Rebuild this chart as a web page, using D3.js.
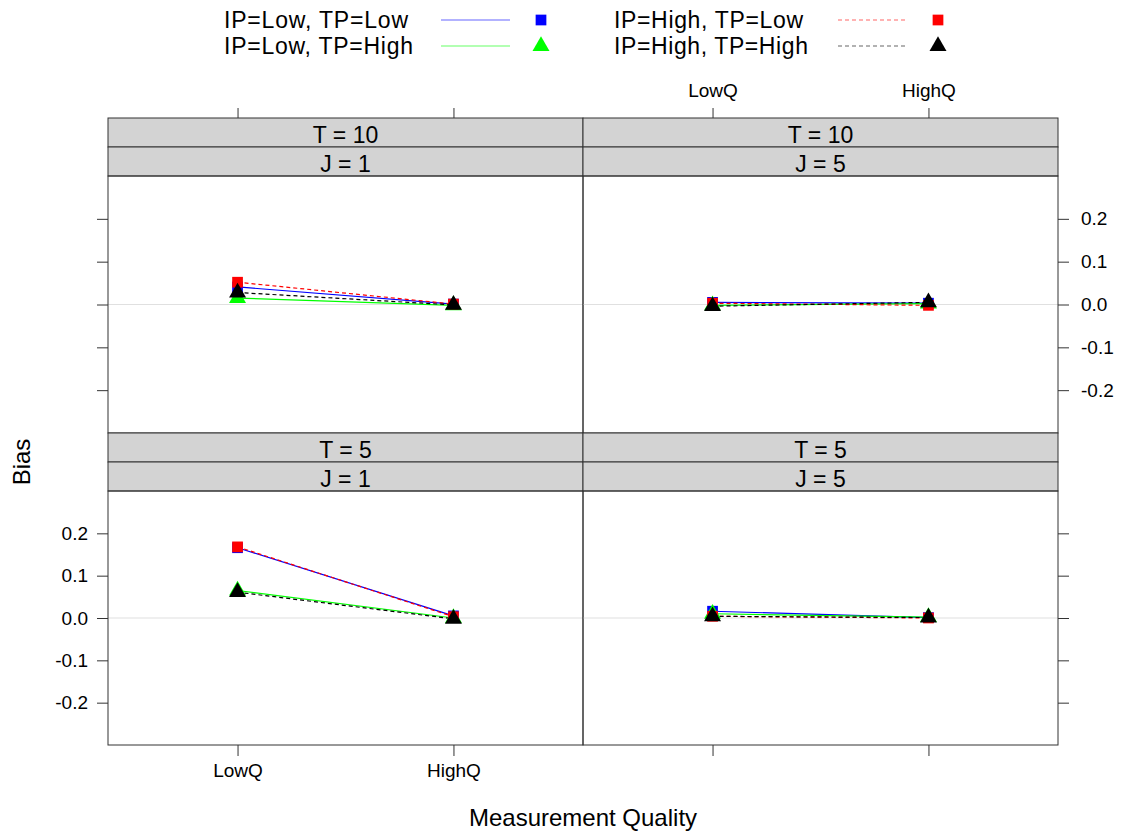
<!DOCTYPE html>
<html>
<head>
<meta charset="utf-8">
<script src="https://cdn.jsdelivr.net/npm/d3@7"></script>
<style>
  html, body { margin: 0; padding: 0; background: #fff; }
  svg { display: block; font-family: "Liberation Sans", Arial, sans-serif; }
</style>
</head>
<body>
<svg id="chart" width="1122" height="835"></svg>
<script>
// Measurement quality levels on the x axis
const categories = ["LowQ", "HighQ"];
// Bias tick values
const yTicks = [-0.2, -0.1, 0.0, 0.1, 0.2];
// Panels: T (strip 1) and J (strip 2), placed by row/column
const panelT = ["T = 10", "T = 10", "T = 5", "T = 5"];
const panelJ = ["J = 1", "J = 5", "J = 1", "J = 5"];
const panelRow = [0, 0, 1, 1];
const panelCol = [0, 1, 0, 1];

// Series names (legend order)
const seriesNames = ["IP=Low, TP=Low", "IP=Low, TP=High", "IP=High, TP=Low", "IP=High, TP=High"];
// Bias per panel, [LowQ, HighQ]
const biasLowLow   = [[0.041, 0.001], [0.005, 0.003], [0.166, 0.005], [0.016, 0.001]];
const biasLowHigh  = [[0.015, -0.002], [-0.002, 0.002], [0.065, 0.000], [0.010, 0.002]];
const biasHighLow  = [[0.052, 0.001], [0.003, -0.002], [0.168, 0.003], [0.004, 0.000]];
const biasHighHigh = [[0.028, -0.001], [-0.004, 0.005], [0.061, -0.002], [0.004, 0.001]];
const seriesValues = [biasLowLow, biasLowHigh, biasHighLow, biasHighHigh];

const seriesColor = ["#0000FF", "#00FF00", "#FF0000", "#000000"];
const seriesDash  = [null, null, "4,3", "4,3"];
const seriesShape = ["square", "triangle", "square", "triangle"];

const svg = d3.select("#chart");

// Layout of the lattice grid
const colX = [[108, 583], [583, 1058]];
const stripH = 29;
const rowTop = [118, 433];
const rowPanel = [[176, 433], [491, 745]];

const xScales = colX.map(([a, b]) => d3.scalePoint().domain(categories).range([a, b]).padding(0.6));
const yScales = rowPanel.map(([t, b]) => d3.scaleLinear().domain([-0.3, 0.3]).range([b, t]));

const fmt = d => d.toFixed(1);
const tickCol = "#333";

function symbolPath(shape) {
  if (shape === "square") return d3.symbol(d3.symbolSquare, 115)();
  return d3.symbol(d3.symbolTriangle, 125)();
}

panelT.forEach((_, i) => {
  const r = panelRow[i], c = panelCol[i];
  const x = xScales[c], y = yScales[r];
  const [x0, x1] = colX[c];
  const [py0, py1] = rowPanel[r];
  const g = svg.append("g");

  // strips
  [panelT[i], panelJ[i]].forEach((lab, k) => {
    const sy = rowTop[r] + k * stripH;
    g.append("rect").attr("x", x0).attr("y", sy).attr("width", x1 - x0).attr("height", stripH)
      .attr("fill", "#D3D3D3").attr("stroke", "#333").attr("stroke-width", 1);
    g.append("text").attr("x", (x0 + x1) / 2).attr("y", sy + stripH / 2 + 10)
      .attr("text-anchor", "middle").attr("font-size", 23).attr("fill", "#000").text(lab);
  });

  // zero reference line
  g.append("line").attr("x1", x0).attr("x2", x1).attr("y1", y(0)).attr("y2", y(0))
    .attr("stroke", "#E0E0E0").attr("stroke-width", 1.2);

  // series lines then points
  seriesValues.forEach((vals, s) => {
    const pts = categories.map((cat, k) => [x(cat), y(vals[i][k])]);
    g.append("path").attr("d", d3.line()(pts)).attr("fill", "none")
      .attr("stroke", seriesColor[s]).attr("stroke-width", 1.2)
      .attr("stroke-dasharray", seriesDash[s]);
  });
  seriesValues.forEach((vals, s) => {
    categories.forEach((cat, k) => {
      g.append("path").attr("d", symbolPath(seriesShape[s]))
        .attr("transform", `translate(${x(cat)},${y(vals[i][k])})`)
        .attr("fill", seriesColor[s]);
    });
  });

  // panel frame
  g.append("rect").attr("x", x0).attr("y", py0).attr("width", x1 - x0).attr("height", py1 - py0)
    .attr("fill", "none").attr("stroke", "#333").attr("stroke-width", 1);
});

function styleAxis(sel) {
  sel.select(".domain").remove();
  sel.selectAll(".tick line").attr("stroke", tickCol).attr("stroke-width", 1);
  sel.selectAll(".tick text").attr("fill", "#000").attr("font-size", 19)
    .attr("font-family", "Liberation Sans, Arial, sans-serif");
}

// left axes (labels on lower row only), right axes (labels on upper row only)
[0, 1].forEach(r => {
  const ax = d3.axisLeft(yScales[r]).tickValues(yTicks).tickSize(11).tickPadding(9).tickFormat(r === 1 ? fmt : "");
  svg.append("g").attr("transform", `translate(${colX[0][0]},0)`).call(ax).call(styleAxis);
  const axr = d3.axisRight(yScales[r]).tickValues(yTicks).tickSize(11).tickPadding(12).tickFormat(r === 0 ? fmt : "");
  svg.append("g").attr("transform", `translate(${colX[1][1]},0)`).call(axr).call(styleAxis);
});

// top and bottom axes (alternating labels)
[0, 1].forEach(c => {
  const axt = d3.axisTop(xScales[c]).tickSize(10).tickPadding(11).tickFormat(c === 1 ? null : "");
  svg.append("g").attr("transform", `translate(0,${rowTop[0]})`).call(axt).call(styleAxis);
  const axb = d3.axisBottom(xScales[c]).tickSize(11).tickPadding(8).tickFormat(c === 0 ? null : "");
  svg.append("g").attr("transform", `translate(0,${rowPanel[1][1]})`).call(axb).call(styleAxis);
});

// axis titles
svg.append("text").attr("x", 583).attr("y", 826).attr("text-anchor", "middle")
  .attr("font-size", 24).text("Measurement Quality");
svg.append("text").attr("transform", "translate(30,462) rotate(-90)").attr("text-anchor", "middle")
  .attr("font-size", 24).text("Bias");

// legend: two columns of text, line sample and symbol
const legendCols = [{tx: 224, l0: 441, l1: 510, px: 541}, {tx: 614, l0: 838, l1: 905, px: 938}];
const legendRows = [20, 46];
seriesNames.forEach((name, s) => {
  const col = legendCols[Math.floor(s / 2)], ry = legendRows[s % 2];
  const lg = svg.append("g");
  lg.append("text").attr("x", col.tx).attr("y", ry + 8).attr("font-size", 23)
    .attr("textLength", s < 2 ? (s === 0 ? 184 : 189) : (s === 2 ? 189 : 194)).text(name);
  lg.append("line").attr("x1", col.l0).attr("x2", col.l1).attr("y1", ry).attr("y2", ry)
    .attr("stroke", seriesColor[s]).attr("stroke-width", 1.2).attr("stroke-opacity", 0.6)
    .attr("stroke-dasharray", seriesDash[s]);
  lg.append("path").attr("d", symbolPath(seriesShape[s]))
    .attr("transform", `translate(${col.px},${ry})`).attr("fill", seriesColor[s]);
});
</script>
</body>
</html>
